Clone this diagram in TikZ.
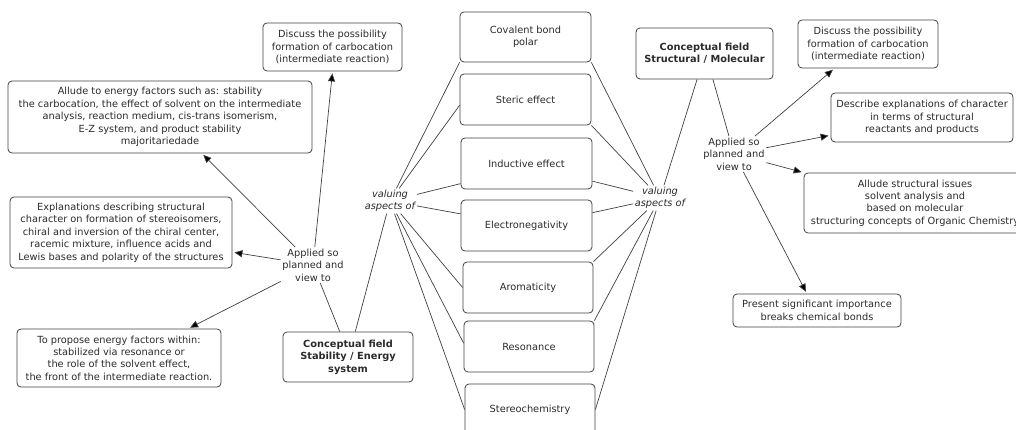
\documentclass[tikz,border=0pt]{standalone}
\usepackage{fontspec}
\setmainfont{DejaVu Sans}
\usetikzlibrary{arrows.meta}
\definecolor{ink}{HTML}{2A2A2A}
\definecolor{edgec}{HTML}{404040}
\begin{document}
\begin{tikzpicture}[x=1pt,y=-1pt,
  box/.style={draw=edgec, line width=0.8pt, rounded corners=4pt, align=center, inner sep=0pt, text=ink, font=\fontsize{9.8}{12.4}\selectfont},
  bbox/.style={box, font=\fontsize{9.8}{12.4}\selectfont\bfseries},
  lbl/.style={align=center, inner sep=1.5pt, text=ink, font=\fontsize{9.8}{12.4}\selectfont},
  ilbl/.style={lbl, font=\fontsize{9.8}{12.4}\selectfont\itshape},
  link/.style={draw=edgec, line width=0.7pt},
  arr/.style={link, -{Triangle[length=8pt,width=7pt,fill=black]}, shorten >=2pt}]
\useasboundingbox (0,0) rectangle (1016,430);
\clip (0,0) rectangle (1016,430);

% central column
\node[box, minimum width=131pt, minimum height=50pt] (cov) at (525.5,37) {Covalent bond\\polar};
\node[box, minimum width=131pt, minimum height=51pt] (ster) at (525.5,99.5) {Steric effect};
\node[box, minimum width=131pt, minimum height=51pt] (ind) at (526.5,163.5) {Inductive effect};
\node[box, minimum width=131pt, minimum height=51pt] (elec) at (526.5,225.5) {Electronegativity};
\node[box, minimum width=130pt, minimum height=51pt] (arom) at (528,287.5) {Aromaticity};
\node[box, minimum width=130pt, minimum height=51pt] (reso) at (529,346.5) {Resonance};
\node[box, minimum width=130pt, minimum height=51pt] (stereo) at (530,409.5) {Stereochemistry};

% conceptual fields
\node[bbox, minimum width=130pt, minimum height=50pt] (stab) at (348,357) {Conceptual field\\Stability / Energy\\system};
\node[bbox, minimum width=137pt, minimum height=51pt] (struct) at (704.5,53.5) {Conceptual field\\Structural / Molecular};

% left boxes
\node[box, minimum width=139pt, minimum height=48pt] (discL) at (332.5,47) {Discuss the possibility\\formation of carbocation\\(intermediate reaction)};
\node[box, minimum width=304pt, minimum height=72pt] (allE) at (160,117) {Allude to energy factors such as: stability\\the carbocation, the effect of solvent on the intermediate\\analysis, reaction medium, cis-trans isomerism,\\E-Z system, and product stability\\majoritariedade};
\node[box, minimum width=222pt, minimum height=71pt] (expl) at (121,232.5) {Explanations describing structural\\character on formation of stereoisomers,\\chiral and inversion of the chiral center,\\racemic mixture, influence acids and\\Lewis bases and polarity of the structures};
\node[box, minimum width=204pt, minimum height=58pt] (prop) at (119,358) {To propose energy factors within:\\stabilized via resonance or\\the role of the solvent effect,\\the front of the intermediate reaction.};

% right boxes
\node[box, minimum width=140pt, minimum height=48pt] (discR) at (868,44) {Discuss the possibility\\formation of carbocation\\(intermediate reaction)};
\node[box, minimum width=182pt, minimum height=49pt] (desc) at (922,117.5) {Describe explanations of character\\in terms of structural\\reactants and products};
\node[box, minimum width=222pt, minimum height=60pt] (allS) at (915,203) {Allude structural issues\\solvent analysis and\\based on molecular\\structuring concepts of Organic Chemistry};
\node[box, minimum width=168pt, minimum height=33pt] (pres) at (817,310.5) {Present significant importance\\breaks chemical bonds};

% linking phrases
\node[ilbl] (valL) at (390,201) {valuing\\aspects of};
\node[ilbl] (valR) at (660,198) {valuing\\aspects of};
\node[lbl] (appL) at (313,265) {Applied so\\planned and\\view to};
\node[lbl] (appR) at (734,154) {Applied so\\planned and\\view to};

% left valuing connectors
\draw[link] (stab.74) -- (valL);
\draw[link] (valL) -- (cov.south west);
\draw[link] (valL) -- (ster.185);
\draw[link] (valL) -- (ind.197);
\draw[link] (valL) -- (elec.170);
\draw[link] (valL) -- (arom.west);
\draw[link] (valL) -- (reso.177);
\draw[link] (valL) -- (stereo.west);

% right valuing connectors
\draw[link] (cov.south east) -- (valR);
\draw[link] (ster.south east) -- (valR);
\draw[link] (ind.345) -- (valR);
\draw[link] (elec.11) -- (valR);
\draw[link] (arom.north east) -- (valR);
\draw[link] (reso.north east) -- (valR);
\draw[link] (stereo.east) -- (valR);
\draw[link] (valR) -- (struct.254);

% left applied
\draw[link] (stab.108) -- (appL);
\draw[arr] (appL) -- (discL.south);
\draw[arr] (appL) -- (allE.319.4);
\draw[arr] (appL) -- (expl.350.5);
\draw[arr] (appL) -- (prop.23.7);

% right applied
\draw[link] (struct.288.4) -- (appR);
\draw[arr] (appR) -- (discR.216);
\draw[arr] (appR) -- (desc.191.5);
\draw[arr] (appR) -- (allS.north west);
\draw[arr] (appR) -- (pres.121);
\end{tikzpicture}
\end{document}
